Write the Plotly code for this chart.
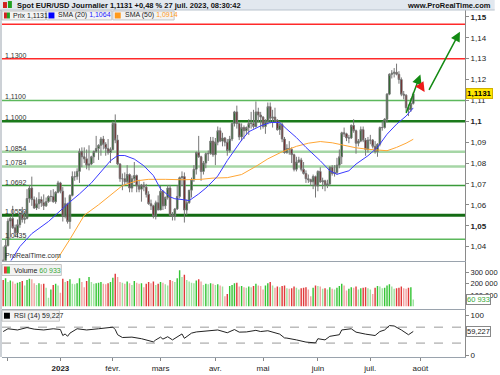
import plotly.graph_objects as go
from plotly.subplots import make_subplots
import pandas as pd

FONT = "Liberation Sans, Arial, sans-serif"

# ---------------- data ----------------
start_date = "2022-11-29"

opens = [
    1.0335, 1.0330, 1.0405, 1.0522, 1.0535, 1.0490, 1.0465, 1.0505, 1.0555, 1.0530, 1.0535, 1.0630,
    1.0680, 1.0625, 1.0585, 1.0605, 1.0625, 1.0610, 1.0595, 1.0615, 1.0640, 1.0640, 1.0615, 1.0660,
    1.0705, 1.0665, 1.0545, 1.0605, 1.0520, 1.0645, 1.0735, 1.0735, 1.0760, 1.0855, 1.0830, 1.0820,
    1.0790, 1.0795, 1.0830, 1.0855, 1.0870, 1.0885, 1.0915, 1.0890, 1.0870, 1.0850,
    1.0865, 1.0990, 1.0910, 1.0795, 1.0725, 1.0725, 1.0710, 1.0745, 1.0680, 1.0725, 1.0740, 1.0690,
    1.0675, 1.0695, 1.0685, 1.0650, 1.0605, 1.0595, 1.0545, 1.0610,
    1.0575, 1.0665, 1.0595, 1.0635, 1.0680, 1.0550, 1.0545, 1.0580, 1.0640, 1.0730, 1.0735, 1.0575,
    1.0610, 1.0670, 1.0720, 1.0770, 1.0850, 1.0830, 1.0760, 1.0800, 1.0845, 1.0845, 1.0905,
    1.0840, 1.0900, 1.0955, 1.0905, 1.0920, 1.0900, 1.0860, 1.0915, 1.0990, 1.1045, 1.0990, 1.0925,
    1.0970, 1.0955, 1.0970, 1.0990, 1.0990, 1.0975, 1.1045, 1.1030,
    1.1020, 1.0975, 1.1000, 1.1070, 1.1015, 1.1020, 1.1005, 1.0960, 1.0985, 1.0915, 1.0850, 1.0870,
    1.0865, 1.0840, 1.0770, 1.0805, 1.0815, 1.0770, 1.0750, 1.0725, 1.0720, 1.0710, 1.0735,
    1.0690, 1.0760, 1.0710, 1.0715, 1.0695, 1.0700, 1.0780, 1.0750, 1.0755, 1.0790, 1.0830, 1.0945,
    1.0940, 1.0920, 1.0920, 1.0980, 1.0955, 1.0895, 1.0905, 1.0960, 1.0910, 1.0865,
    1.0910, 1.0910, 1.0880, 1.0855, 1.0890, 1.0970, 1.0970, 1.1010, 1.1130, 1.1225, 1.1230, 1.1235,
    1.1225, 1.1200, 1.1130, 1.1125, 1.1065, 1.1055, 1.1085,
]
highs = [
    1.0400, 1.0435, 1.0535, 1.0545, 1.0595, 1.0505, 1.0530, 1.0565, 1.0590, 1.0570, 1.0675, 1.0695,
    1.0735, 1.0640, 1.0635, 1.0660, 1.0640, 1.0650, 1.0635, 1.0645, 1.0670, 1.0675, 1.0665, 1.0715,
    1.0710, 1.0685, 1.0635, 1.0610, 1.0650, 1.0760, 1.0760, 1.0775, 1.0870, 1.0875, 1.0875, 1.0865,
    1.0885, 1.0835, 1.0860, 1.0930, 1.0890, 1.0925, 1.0930, 1.0900, 1.0915, 1.0875,
    1.1000, 1.1033, 1.0935, 1.0800, 1.0750, 1.0755, 1.0790, 1.0750, 1.0740, 1.0805, 1.0745, 1.0720,
    1.0700, 1.0710, 1.0700, 1.0665, 1.0625, 1.0600, 1.0620, 1.0645,
    1.0690, 1.0670, 1.0640, 1.0695, 1.0695, 1.0565, 1.0585, 1.0695, 1.0735, 1.0760, 1.0755, 1.0625,
    1.0670, 1.0730, 1.0790, 1.0855, 1.0930, 1.0835, 1.0810, 1.0850, 1.0860, 1.0925, 1.0925,
    1.0920, 1.0975, 1.0970, 1.0945, 1.0925, 1.0915, 1.0930, 1.0995, 1.1050, 1.1075, 1.0995, 1.0990,
    1.0980, 1.0975, 1.1010, 1.1045, 1.1055, 1.1095, 1.1065, 1.1045,
    1.1025, 1.1010, 1.1090, 1.1090, 1.1055, 1.1065, 1.1010, 1.1000, 1.0995, 1.0925, 1.0890, 1.0905,
    1.0875, 1.0845, 1.0830, 1.0830, 1.0825, 1.0805, 1.0765, 1.0745, 1.0725, 1.0745, 1.0740,
    1.0765, 1.0780, 1.0730, 1.0720, 1.0720, 1.0785, 1.0790, 1.0790, 1.0825, 1.0865, 1.0950, 1.0970,
    1.0945, 1.0935, 1.0985, 1.1010, 1.0960, 1.0915, 1.0975, 1.0975, 1.0920, 1.0925,
    1.0935, 1.0915, 1.0905, 1.0895, 1.0975, 1.1000, 1.1015, 1.1135, 1.1230, 1.1245, 1.1255, 1.1276,
    1.1240, 1.1210, 1.1145, 1.1130, 1.1080, 1.1110, 1.1140,
]
lows = [
    1.0290, 1.0290, 1.0400, 1.0445, 1.0485, 1.0445, 1.0445, 1.0490, 1.0515, 1.0510, 1.0530, 1.0610,
    1.0595, 1.0580, 1.0575, 1.0580, 1.0590, 1.0575, 1.0590, 1.0610, 1.0615, 1.0610, 1.0605, 1.0655,
    1.0655, 1.0520, 1.0535, 1.0510, 1.0485, 1.0640, 1.0715, 1.0720, 1.0705, 1.0780, 1.0800, 1.0770,
    1.0765, 1.0790, 1.0800, 1.0850, 1.0815, 1.0835, 1.0865, 1.0835, 1.0840, 1.0800,
    1.0860, 1.0895, 1.0790, 1.0710, 1.0670, 1.0690, 1.0700, 1.0660, 1.0660, 1.0705, 1.0660, 1.0660,
    1.0615, 1.0665, 1.0635, 1.0600, 1.0575, 1.0535, 1.0530, 1.0575,
    1.0575, 1.0575, 1.0580, 1.0625, 1.0545, 1.0525, 1.0525, 1.0575, 1.0630, 1.0690, 1.0515, 1.0550,
    1.0605, 1.0635, 1.0710, 1.0745, 1.0825, 1.0715, 1.0745, 1.0775, 1.0810, 1.0840, 1.0830,
    1.0790, 1.0885, 1.0900, 1.0880, 1.0880, 1.0835, 1.0850, 1.0905, 1.0975, 1.0965, 1.0910, 1.0905,
    1.0915, 1.0935, 1.0935, 1.0965, 1.0965, 1.0970, 1.0995, 1.0960,
    1.0965, 1.0940, 1.0985, 1.0990, 1.0970, 1.0995, 1.0955, 1.0935, 1.0900, 1.0845, 1.0845, 1.0840,
    1.0800, 1.0760, 1.0760, 1.0800, 1.0760, 1.0745, 1.0705, 1.0705, 1.0690, 1.0675, 1.0635,
    1.0665, 1.0705, 1.0675, 1.0665, 1.0680, 1.0690, 1.0740, 1.0735, 1.0745, 1.0775, 1.0795, 1.0925,
    1.0905, 1.0895, 1.0915, 1.0945, 1.0845, 1.0880, 1.0900, 1.0900, 1.0835, 1.0850,
    1.0890, 1.0870, 1.0845, 1.0830, 1.0880, 1.0955, 1.0965, 1.0995, 1.1125, 1.1205, 1.1210, 1.1220,
    1.1180, 1.1120, 1.1105, 1.1045, 1.1025, 1.1045, 1.1080,
]
closes = [
    1.0330, 1.0405, 1.0522, 1.0535, 1.0490, 1.0465, 1.0505, 1.0555, 1.0530, 1.0535, 1.0630, 1.0680,
    1.0625, 1.0585, 1.0605, 1.0625, 1.0610, 1.0595, 1.0615, 1.0640, 1.0640, 1.0615, 1.0660, 1.0705,
    1.0665, 1.0545, 1.0605, 1.0520, 1.0645, 1.0735, 1.0735, 1.0760, 1.0855, 1.0830, 1.0820, 1.0790,
    1.0795, 1.0830, 1.0855, 1.0870, 1.0885, 1.0915, 1.0890, 1.0870, 1.0850, 1.0865,
    1.0990, 1.0910, 1.0795, 1.0725, 1.0725, 1.0710, 1.0745, 1.0680, 1.0725, 1.0740, 1.0690, 1.0675,
    1.0695, 1.0685, 1.0650, 1.0605, 1.0595, 1.0545, 1.0610, 1.0575,
    1.0665, 1.0595, 1.0635, 1.0680, 1.0550, 1.0545, 1.0580, 1.0640, 1.0730, 1.0735, 1.0575, 1.0610,
    1.0670, 1.0720, 1.0770, 1.0850, 1.0830, 1.0760, 1.0800, 1.0845, 1.0845, 1.0905, 1.0840,
    1.0900, 1.0955, 1.0905, 1.0920, 1.0900, 1.0860, 1.0915, 1.0990, 1.1045, 1.0990, 1.0925, 1.0970,
    1.0955, 1.0970, 1.0990, 1.0990, 1.0975, 1.1045, 1.1030, 1.1020,
    1.0975, 1.1000, 1.1070, 1.1015, 1.1020, 1.1005, 1.0960, 1.0985, 1.0915, 1.0850, 1.0870, 1.0865,
    1.0840, 1.0770, 1.0805, 1.0815, 1.0770, 1.0750, 1.0725, 1.0720, 1.0710, 1.0735, 1.0690,
    1.0760, 1.0710, 1.0715, 1.0695, 1.0700, 1.0780, 1.0750, 1.0755, 1.0790, 1.0830, 1.0945, 1.0940,
    1.0920, 1.0920, 1.0980, 1.0955, 1.0895, 1.0905, 1.0960, 1.0910, 1.0865, 1.0910,
    1.0910, 1.0880, 1.0855, 1.0890, 1.0970, 1.0970, 1.1010, 1.1130, 1.1225, 1.1230, 1.1235, 1.1225,
    1.1200, 1.1130, 1.1125, 1.1065, 1.1055, 1.1085, 1.1131,
]
volumes = [
    235000, 250000, 215000, 230000, 220000, 200000, 210000, 215000, 225000, 185000, 235000, 245000,
    240000, 205000, 190000, 205000, 195000, 200000, 165000, 75000, 150000, 190000, 200000, 185000,
    120000, 245000, 215000, 225000, 240000, 200000, 195000, 205000, 250000, 215000, 170000, 225000,
    260000, 215000, 200000, 205000, 210000, 215000, 200000, 195000, 205000, 215000,
    255000, 290000, 260000, 215000, 210000, 200000, 220000, 205000, 190000, 225000, 210000, 200000,
    205000, 170000, 200000, 215000, 205000, 220000, 190000, 200000,
    215000, 210000, 195000, 185000, 235000, 225000, 215000, 250000, 320000, 260000, 280000, 235000,
    220000, 210000, 205000, 230000, 240000, 220000, 190000, 200000, 195000, 205000, 200000,
    190000, 195000, 185000, 175000, 90000, 110000, 180000, 190000, 205000, 210000, 175000, 180000,
    170000, 165000, 175000, 170000, 180000, 200000, 185000, 180000,
    150000, 185000, 205000, 215000, 185000, 165000, 175000, 170000, 180000, 185000, 160000, 155000,
    160000, 175000, 165000, 150000, 160000, 165000, 170000, 150000, 90000, 165000, 185000,
    180000, 175000, 155000, 160000, 150000, 170000, 155000, 150000, 165000, 180000, 200000, 185000,
    140000, 155000, 170000, 165000, 175000, 150000, 160000, 165000, 170000, 160000,
    150000, 110000, 165000, 180000, 175000, 160000, 165000, 185000, 195000, 175000, 155000, 160000,
    165000, 175000, 160000, 155000, 165000, 170000, 60933,
]

sma20_dates = ["2022-12-01", "2022-12-08", "2022-12-15", "2022-12-26", "2023-01-06", "2023-01-12",
               "2023-01-19", "2023-01-26", "2023-01-31", "2023-02-03", "2023-02-08", "2023-02-14",
               "2023-02-20", "2023-02-24", "2023-03-01", "2023-03-07", "2023-03-09", "2023-03-15",
               "2023-03-17", "2023-03-23", "2023-03-28", "2023-03-31", "2023-04-04", "2023-04-10",
               "2023-04-14", "2023-04-18", "2023-04-21", "2023-04-28", "2023-05-04", "2023-05-10",
               "2023-05-15", "2023-05-19", "2023-05-25", "2023-05-31", "2023-06-02", "2023-06-08",
               "2023-06-13", "2023-06-20", "2023-06-23", "2023-06-30", "2023-07-06", "2023-07-12",
               "2023-07-18", "2023-07-24", "2023-07-27"]
sma20_vals = [1.0310, 1.0400, 1.0462, 1.0520, 1.0614, 1.0652, 1.0705, 1.0771, 1.0811, 1.0836,
              1.0836, 1.0819, 1.0787, 1.0740, 1.0676, 1.0638, 1.0629, 1.0624, 1.0620, 1.0652,
              1.0680, 1.0714, 1.0738, 1.0812, 1.0880, 1.0910, 1.0950, 1.0978, 1.0994, 1.0994,
              1.0962, 1.0922, 1.0875, 1.0835, 1.0811, 1.0763, 1.0746, 1.0763, 1.0795, 1.0835,
              1.0875, 1.0938, 1.0986, 1.1025, 1.1064]

sma50_dates = ["2022-12-22", "2022-12-30", "2023-01-06", "2023-01-16", "2023-01-24", "2023-01-30",
               "2023-02-07", "2023-02-15", "2023-02-22", "2023-03-03", "2023-03-14", "2023-03-24",
               "2023-03-31", "2023-04-10", "2023-04-18", "2023-04-26", "2023-05-03", "2023-05-11",
               "2023-05-19", "2023-05-26", "2023-06-02", "2023-06-09", "2023-06-16", "2023-06-23",
               "2023-06-30", "2023-07-07", "2023-07-12", "2023-07-18", "2023-07-24", "2023-07-27"]
sma50_vals = [1.0270, 1.0345, 1.0435, 1.0550, 1.0600, 1.0637, 1.0692, 1.0715, 1.0722, 1.0722,
              1.0720, 1.0722, 1.0728, 1.0730, 1.0745, 1.0784, 1.0820, 1.0854, 1.0880, 1.0895,
              1.0903, 1.0897, 1.0885, 1.0873, 1.0866, 1.0862, 1.0859, 1.0875, 1.0895, 1.0914]

rsi_dates = ["2022-11-29", "2022-12-01", "2022-12-07", "2022-12-13", "2022-12-16", "2022-12-22",
             "2022-12-28", "2023-01-02", "2023-01-03", "2023-01-04", "2023-01-05", "2023-01-06",
             "2023-01-11", "2023-01-17", "2023-01-24", "2023-01-27", "2023-02-01", "2023-02-02",
             "2023-02-03", "2023-02-07", "2023-02-13", "2023-02-17", "2023-02-24", "2023-02-27",
             "2023-03-01", "2023-03-02", "2023-03-06", "2023-03-08", "2023-03-14", "2023-03-15",
             "2023-03-17", "2023-03-20", "2023-03-22", "2023-03-30", "2023-04-04", "2023-04-10",
             "2023-04-11", "2023-04-13", "2023-04-17", "2023-04-20", "2023-04-26", "2023-04-28",
             "2023-05-03", "2023-05-05", "2023-05-10", "2023-05-12", "2023-05-15", "2023-05-19",
             "2023-05-25", "2023-05-31", "2023-06-01", "2023-06-06", "2023-06-08", "2023-06-14",
             "2023-06-15", "2023-06-21", "2023-06-23", "2023-06-29", "2023-07-05", "2023-07-07",
             "2023-07-11", "2023-07-13", "2023-07-17", "2023-07-20", "2023-07-25", "2023-07-27"]
rsi_vals = [59, 66, 63, 69, 65, 63, 66, 64, 49, 53, 47, 55, 66, 63, 66, 67.5, 70, 64, 51, 44,
            45, 41, 33, 38, 45, 40, 46, 38, 53, 42, 50, 55, 58, 61, 63, 56, 59, 64, 57.5, 58,
            62, 59, 61, 58, 52.5, 43, 42.5, 38, 32.5, 30.5, 41, 38, 47, 51, 63, 66, 57.5, 52.5,
            49, 59, 63, 74, 73, 63, 51, 59.227]

red_levels = [1.1465, 1.1300]
green_levels = [1.1100, 1.1000, 1.0854, 1.0784, 1.0692, 1.0550, 1.0435]
labelled_levels = [1.1300, 1.1100, 1.1000, 1.0854, 1.0784, 1.0692, 1.0550, 1.0435]
rsi_bands = [70, 30]

price_ticks = [1.04, 1.05, 1.06, 1.07, 1.08, 1.09, 1.10, 1.11, 1.12, 1.13, 1.14, 1.15]
price_labels = ["1,04", "<b>1,05</b>", "1,06", "1,07", "1,08", "1,09", "<b>1,1</b>", "1,11",
                "1,12", "1,13", "1,14", "<b>1,15</b>"]
vol_ticks = [100000, 200000, 300000]
vol_labels = ["100 000", "200 000", "300 000"]
month_ticks = ["2022-12-01", "2023-01-02", "2023-02-01", "2023-03-01", "2023-04-03",
               "2023-05-01", "2023-06-01", "2023-07-03", "2023-08-01"]
month_labels = ["", "<b>2023</b>", "févr.", "mars", "avr.", "mai", "juin", "juil.", "août"]

# arrows drawn on the chart: (tail date, tail price, head date, head price)
arrow_up1 = ("2023-07-21 19:00", 1.1033, "2023-08-01 00:00", 1.1224)
arrow_down = ("2023-07-31 07:00", 1.1184, "2023-08-02 19:00", 1.1140)
arrow_up2 = ("2023-08-04 07:00", 1.1143, "2023-08-23 14:00", 1.1429)

last_price = 1.1131
last_volume = 60933
last_rsi = 59.227

# ---------------- figure ----------------
dates = pd.bdate_range(start_date, periods=len(closes))

fig = make_subplots(rows=3, cols=1, shared_xaxes=True, vertical_spacing=0)

for lv in red_levels:
    fig.add_shape(type="line", xref="x domain", yref="y", x0=0, x1=1, y0=lv, y1=lv,
                  line=dict(color="#ff2a2a", width=1.5), layer="below")
green_style = {1.1100: ("#5cb85c", 1.5), 1.1000: ("#1b7a1b", 2.5), 1.0854: ("#a6d6a6", 2.5),
               1.0784: ("#a6d6a6", 2.5), 1.0692: ("#3a9a3a", 1.5), 1.0550: ("#136b13", 3),
               1.0435: ("#5cb85c", 1.5)}
for lv in green_levels:
    c, w = green_style[lv]
    fig.add_shape(type="line", xref="x domain", yref="y", x0=0, x1=1, y0=lv, y1=lv,
                  line=dict(color=c, width=w), layer="below")

fig.add_trace(go.Candlestick(
    x=dates, open=opens, high=highs, low=lows, close=closes,
    increasing=dict(line=dict(color="#777777", width=1), fillcolor="#0c5f0c"),
    decreasing=dict(line=dict(color="#777777", width=1), fillcolor="#6e0a0a"),
    whiskerwidth=0, hoverinfo="skip", showlegend=False), row=1, col=1)

fig.add_trace(go.Scatter(x=pd.to_datetime(sma50_dates), y=sma50_vals, mode="lines",
                         line=dict(color="#ffa635", width=1), hoverinfo="skip"), row=1, col=1)
fig.add_trace(go.Scatter(x=pd.to_datetime(sma20_dates), y=sma20_vals, mode="lines",
                         line=dict(color="#3a3aff", width=1), hoverinfo="skip"), row=1, col=1)

vol_colors = []
for i, v in enumerate(volumes):
    prev_close = closes[i - 1] if i > 0 else opens[0]
    up = closes[i] >= prev_close
    lighter = i > 0 and v < volumes[i - 1]
    if up:
        vol_colors.append("#9ee29e" if lighter else "#36c536")
    else:
        vol_colors.append("#f2a3a3" if lighter else "#e03a3a")
fig.add_trace(go.Bar(x=dates, y=volumes, marker=dict(color=vol_colors, line=dict(width=0)),
                     hoverinfo="skip"), row=2, col=1)

for b in rsi_bands:
    fig.add_shape(type="line", xref="x3 domain", yref="y3", x0=0, x1=1, y0=b, y1=b,
                  line=dict(color="#9a9a9a", width=1, dash="dash"), layer="below")
fig.add_trace(go.Scatter(x=pd.to_datetime(rsi_dates), y=rsi_vals, mode="lines",
                         line=dict(color="#222222", width=1), hoverinfo="skip"), row=3, col=1)

# plot area geometry in pixels (for decorations)
PL, PR, PT, PB = 2, 470, 10, 359
def px(x):
    return (x - PL) / (PR - PL)
def py(y):
    return (PB - y) / (PB - PT)

fig.update_layout(
    width=500, height=375, margin=dict(l=PL, r=500 - PR, t=PT, b=375 - PB),
    paper_bgcolor="white", plot_bgcolor="white", showlegend=False,
    font=dict(family=FONT, size=8, color="#222"), bargap=0.4, boxgap=0.05,
)
fig.update_xaxes(rangebreaks=[dict(bounds=["sat", "mon"])],
                 range=["2022-11-28 12:00", "2023-08-25 17:00"],
                 showgrid=False, zeroline=False, rangeslider_visible=False,
                 showline=True, linecolor="#9aa3ad", linewidth=1)
fig.update_xaxes(showticklabels=False, ticks="", row=1, col=1)
fig.update_xaxes(showticklabels=False, ticks="", row=2, col=1)
fig.update_xaxes(tickvals=pd.to_datetime(month_ticks), ticktext=month_labels, ticks="outside",
                 ticklen=3, tickcolor="#888", tickfont=dict(size=8, color="#222"), row=3, col=1)

axis_common = dict(side="right", showgrid=False, zeroline=False, showline=True,
                   linecolor="#8a8a8a", linewidth=1, ticks="outside", ticklen=3,
                   tickcolor="#8a8a8a", tickfont=dict(size=8, color="#222"))
fig.update_layout(
    yaxis=dict(domain=[py(262), 1], range=[1.0333, 1.1533], tickvals=price_ticks,
               ticktext=price_labels, **axis_common),
    yaxis2=dict(domain=[py(311), py(263)], range=[-26500, 398000], tickvals=vol_ticks,
                ticktext=vol_labels, **{**axis_common, "tickfont": dict(size=7.5, color="#222")}),
    yaxis3=dict(domain=[0, py(312)], range=[-5, 112.5], tickvals=[0, 100],
                ticktext=["0", "100"], **axis_common),
)

ann = []
def txt(x, y, text, size=7, color="#222", xanchor="left", yanchor="middle", **kw):
    ann.append(dict(x=x, y=y, xref=kw.pop("xref", "paper"), yref=kw.pop("yref", "paper"),
                    text=text, showarrow=False, xanchor=xanchor, yanchor=yanchor,
                    font=dict(family=FONT, size=size, color=color), **kw))

# level labels
for lv in labelled_levels:
    txt(px(3), lv, f"{lv:.4f}".replace(".", ","), size=7, color="#333", yref="y",
        yanchor="bottom", yshift=-2)

# last-value boxes on the right axis
txt(px(471), last_price, f"<b>{last_price:.4f}</b>".replace(".", ","), size=8, color="#000",
    yref="y", bgcolor="#ffe600", bordercolor="#d0b000", borderwidth=1, borderpad=0)
txt(px(471), last_volume, "60 933", size=7.5, color="#3aa83a", yref="y2",
    bgcolor="white", bordercolor="#888", borderwidth=1, borderpad=0)
txt(px(471), last_rsi, "59,227", size=7.5, color="#222", yref="y3",
    bgcolor="white", bordercolor="#888", borderwidth=1, borderpad=0)

# header
shapes = []
shapes.append(dict(type="rect", xref="paper", yref="paper", x0=px(0), x1=px(500), y0=py(10),
                   y1=py(0), fillcolor="#e2e8ef", line=dict(width=0), layer="above"))
shapes.append(dict(type="line", xref="paper", yref="paper", x0=px(0), x1=px(500), y0=py(10),
                   y1=py(10), line=dict(color="#b9c3cd", width=1), layer="above"))
shapes.append(dict(type="rect", xref="paper", yref="paper", x0=px(3), x1=px(7), y0=py(8),
                   y1=py(2), fillcolor="#d02020", line=dict(width=0), layer="above"))
shapes.append(dict(type="rect", xref="paper", yref="paper", x0=px(8), x1=px(12), y0=py(8),
                   y1=py(1), fillcolor="#20a020", line=dict(width=0), layer="above"))
txt(px(15), py(5), "<b>Spot EUR/USD Journalier 1,1131 +0,48 % 27 juil. 2023, 08:30:42</b>",
    size=7.5, color="#111")
txt(px(498), py(5), "<b>www.ProRealTime.com</b>", size=7.5, color="#111", xanchor="right")

# legend boxes
def box(x0, x1, y0, y1):
    shapes.append(dict(type="rect", xref="paper", yref="paper", x0=px(x0), x1=px(x1),
                       y0=py(y1), y1=py(y0), fillcolor="#f3f3f3",
                       line=dict(color="#c4c4c4", width=1), layer="above"))
def rect(x0, x1, y0, y1, color):
    shapes.append(dict(type="rect", xref="paper", yref="paper", x0=px(x0), x1=px(x1),
                       y0=py(y1), y1=py(y0), fillcolor=color, line=dict(width=0),
                       layer="above"))

box(2, 46, 11, 20)
rect(4, 7, 12.5, 18.5, "#d02020")
rect(7, 10, 12.5, 18.5, "#20a020")
txt(px(11), py(15.5), "Prix 1,1131", size=7)
box(47, 113, 11, 20)
rect(49, 55, 12.5, 18.5, "#0000ff")
txt(px(57), py(15.5), "SMA (20) <span style='color:#2020ff'>1,1064</span>", size=7)
box(114, 176, 11, 20)
rect(116, 122, 12.5, 18.5, "#ff9a1a")
txt(px(124), py(15.5), "SMA (50) <span style='color:#ff9a1a'>1,0914</span>", size=7)

box(2, 62, 266, 277)
rect(4, 7, 268, 275, "#e03a3a")
rect(7, 10, 268, 275, "#36c536")
txt(px(12), py(271.5), "Volume <span style='color:#3aa83a'>60 933</span>", size=7)
box(2, 60, 312, 323)
rect(4, 10, 314.5, 320.5, "#000000")
txt(px(12), py(317.5), "RSI (14) 59,227", size=7)

# watermark
txt(px(3), py(257), "ProRealTime.com", size=7, color="#333")

# left border
shapes.append(dict(type="line", xref="paper", yref="paper", x0=px(1), x1=px(1), y0=0,
                   y1=py(10), line=dict(color="#9aa3ad", width=1), layer="above"))

# arrows
for (tx, ty, hx, hy), col in [(arrow_up1, "#138a13"), (arrow_down, "#ee1a1a"),
                              (arrow_up2, "#138a13")]:
    ann.append(dict(x=hx, y=hy, ax=tx, ay=ty, xref="x", yref="y", axref="x", ayref="y",
                    text="", showarrow=True, arrowhead=2, arrowsize=1.3, arrowwidth=1.5,
                    arrowcolor=col))

fig.update_layout(annotations=list(fig.layout.annotations) + ann,
                  shapes=list(fig.layout.shapes) + shapes)

fig.write_html("out.html", config={"displayModeBar": False, "staticPlot": True},
               post_script="document.body.style.margin='0';document.body.style.overflow='hidden';")
